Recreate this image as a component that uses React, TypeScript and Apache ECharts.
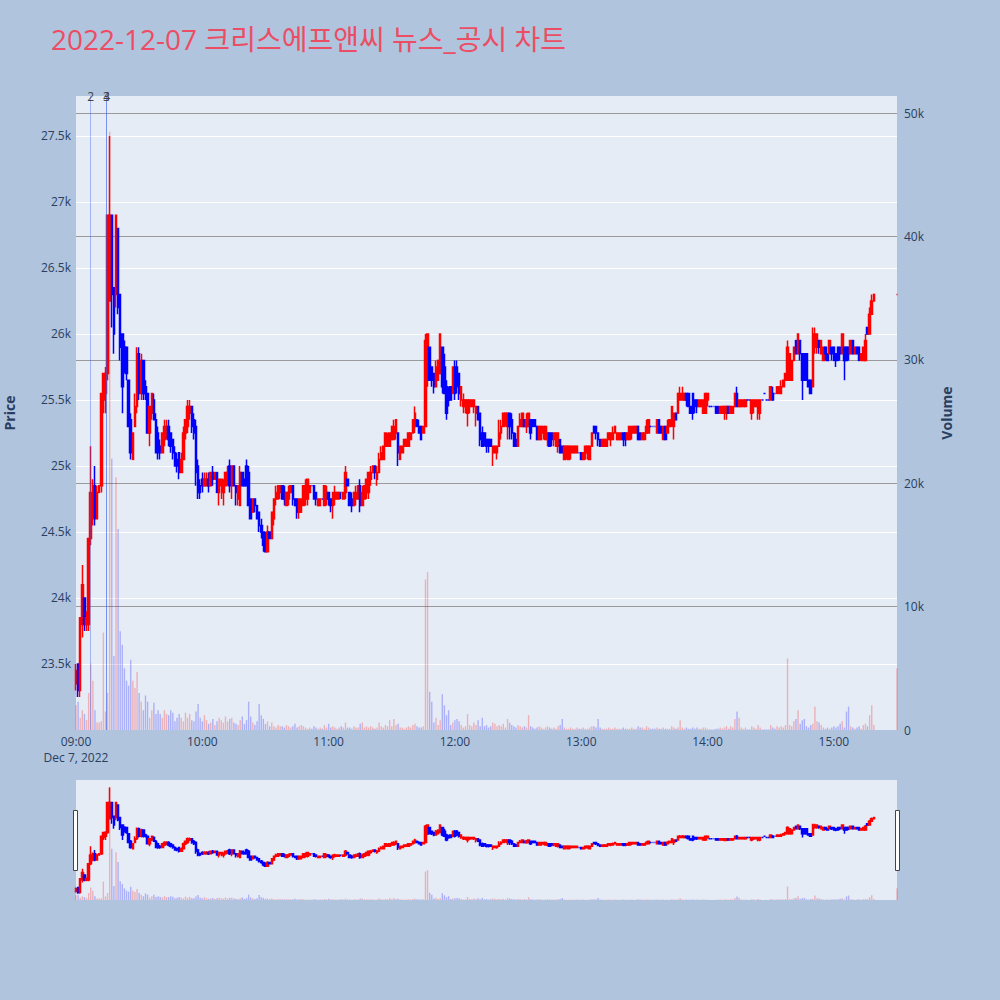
import React, { useEffect, useRef } from "react";
import * as echarts from "echarts";

const TITLE = "2022-12-07 크리스에프앤씨 뉴스_공시 차트";
const DATE_LABEL = "Dec 7, 2022";
const SESSION_START_HOUR = 9;
const SESSION_MINUTES = 390;

// One candle per minute from 09:00 (index = minutes after 09:00).
// Prices in hundreds of won: [open, close, low, high]
const candles: number[][] = [
  [233.5,234.5,233,235],[235,233,232.5,235],[233,238.5,232.5,238.5],[238,241,237,242.5],[240,238,237.5,240],[238,238.5,237.5,239],[238,244.5,237.5,244.5],[244.5,248,244,251.5],[246,248.5,245.5,249],[248.5,246,245.5,250],
  [246,248,246,248.5],[248,248.5,248,248.5],[248.5,255.5,248,255.5],[255,257,254,257],[255.5,257,254,257.5],[257,269,256.5,269],[262.5,269,262.5,275],[269,263,260.5,269],[263.5,260,258.5,263.5],[263,269,262,269],
  [268,262,261.5,268],[263,259,258,263],[260,256,254,260],[259,257.5,257,259.5],[259,257,256.5,259],[256.5,253,253,256.5],[253.5,251,250.5,254],[250.5,252.5,250.5,252.5],[253,254.5,253,255.5],[254.5,258.5,254,259],
  [258.5,255.5,255,259],[255.5,258,255,258.5],[258,255.5,255,258],[256,255.5,255,256.5],[255.5,252.5,252.5,255.5],[252.5,254.5,251.5,254.5],[254,255.5,253.5,255.5],[255,253.5,253.5,255.5],[253.5,251,251,254],[252.5,251,250.5,253],
  [251.5,251,250.5,252],[251,252.5,251,252.5],[252,253,251.5,253.5],[252.5,253,252,253.5],[253,252,251.5,253.5],[252.5,251.5,251,252.5],[252,251,250.5,252],[251,250,250,251.5],[250.5,250,249.5,251],[251,249.5,249,251],
  [249.5,250.5,249.5,251],[250.5,252.5,250.5,253],[252.5,253.5,252,253.5],[253,254.5,252.5,255],[254,254.5,253.5,255],[254.5,253,252.5,254.5],[253.5,252.5,252,254],[253,249.5,248.5,253.5],[250,248,247.5,250.5],[248.5,248,247.5,249],
  [249,248.5,248,249.5],[248.5,249,248.5,249.5],[248.5,249,248.5,249.5],[249,248.5,248,249.5],[248.5,249.5,248.5,249.5],[249.5,249,248.5,250],[249,249.5,249,249.5],[249.5,248,248,249.5],[248,249,247,249],[248.5,249,247.5,249],
  [248,248.5,247,249],[248.5,249.5,248.5,249.5],[249,249.5,248.5,250],[250,248.5,248,250.5],[248.5,250,247.5,250],[250,248.5,248.5,250],[248.5,248,247,248.5],[247.5,248.5,247,248.5],[247,249.5,247,250],[249.5,248.5,248.5,249.5],
  [249,248.5,248.5,249],[250,248.5,248.5,250.5],[249.5,247,247,250],[247.5,246,246,247.5],[246.5,247.5,246.5,247.5],[247.5,247,246.5,247.5],[247,246,246,247],[246.5,245.5,245,246.5],[245.5,245,244.5,246],[245,244,243.5,245],
  [244.5,243.5,243.5,245],[243.5,245,243.5,245.5],[245,244.5,244.5,245],[244.5,246.5,244.5,246.5],[246,247.5,245.5,247.5],[247.5,248,247,248.5],[247.5,248.5,247.5,248.5],[248,248.5,247.5,248.5],[248.5,247.5,247.5,248.5],[248,247.5,247,248.5],
  [247,248,247,248],[247.5,248,247,248.5],[248,248.5,248,248.5],[248.5,247.5,247,248.5],[247.5,247,247,247.5],[247.5,246.5,246,247.5],[246.5,247.5,246,247.5],[246.5,247.5,246.5,247.5],[247,248.5,247,248.5],[247.5,248.5,247,249],
  [247.5,249,247,249],[248,248.5,248,248.5],[248.5,248.5,248.5,248.5],[248.5,247.5,247.5,248.5],[248,247.5,247,248],[247,247.5,247,247.5],[247,247.5,247,247.5],[247.5,247.5,247.5,247.5],[247,248.5,247,248.5],[247.5,248,247,248.5],
  [248,247.5,247,248],[247.5,247,246.5,247.5],[247,248,246,248],[247.5,248,247,248.5],[247.5,248,247.5,248],[247.5,248,247.5,248],[248,248,247.5,248],[247.5,248,247.5,248],[248,249.5,247.5,250],[249,248.5,248.5,249],
  [248,247,247,248],[247.5,247,246.5,248],[247,248,247,248],[247.5,248,247,248.5],[247.5,248.5,247.5,248.5],[248.5,247,246.5,249],[247,248,247,248.5],[247.5,248.5,247.5,248.5],[248,249,247.5,249],[248,249.5,247.5,249.5],
  [249,249.5,248.5,250],[249.5,250,249.5,250],[250,249.5,249,250],[249,249.5,248.5,250],[249.5,250.5,249.5,251],[250.5,251,250.5,251.5],[250.5,251.5,250.5,251.5],[251.5,252.5,251.5,252.5],[251.5,252,251.5,252.5],[251.5,252.5,251.5,252.5],
  [252,253,252,253],[252,253,252,253.5],[252.5,253.5,252,253.5],[252.5,251,250,252.5],[250.5,251.5,250.5,251.5],[251,251.5,251,251.5],[251.5,252,251.5,252],[251.5,252,251.5,252],[251.5,252.5,251.5,252.5],[252,252.5,252,252.5],
  [252.5,253.5,252.5,253.5],[253,254,252.5,254.5],[253.5,253,253,253.5],[253,252.5,252.5,253.5],[253,252,252,253],[252.5,253,252.5,253],[253,259.5,253,260],[256.5,260,256,260],[259,256.5,256.5,259],[257.5,256.5,256,257.5],
  [257,256,255.5,257],[256,257.5,256,258],[256.5,258,256.5,258],[257,260,257,260],[259,256,255.5,259],[257.5,255.5,255.5,258.5],[256,254,253.5,256.5],[255.5,255,254.5,256],[256,255,255,256],[255.5,257.5,255.5,257.5],
  [257.5,255.5,255,258],[257.5,256,255.5,258],[257,255.5,255,257],[255,256,254.5,256],[254.5,255,254,255.5],[254.5,255,254,255],[254,255,253,255],[254.5,255,254,255],[254.5,255,254.5,255],[254.5,255,254,255],
  [254,254.5,253,254.5],[254.5,253.5,253.5,254.5],[254,252,251.5,254],[252.5,251.5,251.5,253],[252.5,252,251.5,252.5],[252,251.5,251,252],[252,251.5,251,252],[252,251.5,251.5,252],[251,251.5,250,251.5],[251,251.5,251,251.5],
  [251,251.5,250.5,251.5],[251.5,252.5,251.5,253.5],[252.5,253,252,253.5],[253,254,253,254],[253.5,254,253,254],[253,254,252,254],[254,253,252,254],[253.5,252.5,252,254],[252.5,251.5,251.5,252.5],[252,251.5,251.5,252.5],
  [251.5,253,251.5,253],[253,253.5,253,254],[253,254,253,254],[253.5,253,253,253.5],[253,253.5,252.5,254],[253,254,253,254],[253.5,252.5,252,253.5],[253.5,253,253,253.5],[253.5,253,253,253.5],[253,252,252,253],
  [252,253,252,253],[252,253,252,253],[252.5,253,252,253],[252,253,252,253],[252,252.5,251.5,252.5],[252.5,251.5,251.5,252.5],[252.5,252,251.5,252.5],[252,252.5,251.5,252.5],[251.5,252.5,251.5,252.5],[251.5,252.5,251,252.5],
  [252,251,251,252],[251.5,251,251,251.5],[250.5,251.5,250.5,251.5],[251,251.5,250.5,251.5],[250.5,251.5,250.5,251.5],[251,251.5,250.5,251.5],[251,251.5,251,251.5],[251,251.5,251,251.5],[251,251.5,251,251.5],[251,251,251,251],
  [251,250.5,250.5,251],[250.5,251,250.5,251],[251,251.5,250.5,251.5],[251,251.5,250.5,251.5],[250.5,251.5,250.5,251.5],[251.5,252.5,251.5,252.5],[253,252.5,252.5,253],[253,252.5,252,253],[252.5,252,251.5,252.5],[252,251.5,251.5,252],
  [251.5,252,251.5,252],[251.5,252,251.5,252],[251.5,252,251.5,252],[252,252.5,252,252.5],[252,252.5,251.5,252.5],[252,252.5,252,253],[252.5,253,252.5,253],[252,252.5,252,252.5],[252,252.5,252,252.5],[252,252.5,252,252.5],
  [252.5,252,251.5,252.5],[252.5,252,251.5,252.5],[252,252.5,252,252.5],[252,253,252,253],[252.5,253,252,253],[252.5,253,252.5,253],[252.5,253,252.5,253],[253,252,252,253],[252.5,252,252,252.5],[252,252.5,252,252.5],
  [252,252.5,252,252.5],[252.5,253,252.5,253.5],[252.5,253.5,252.5,253.5],[253,253,253,253],[253,253,253,253],[253,253,253,253],[252.5,253.5,252.5,253.5],[253.5,252.5,252.5,253.5],[253,252.5,252.5,253],[252,253,252,253],
  [253,252,252,253],[252.5,253,252.5,253.5],[253,253.5,253,253.5],[253,254.5,253,254.5],[253,254,252,254],[254,253.5,253.5,254],[254,255.5,254,255.5],[255,255.5,255,256],[255,255.5,255,256],[255,255.5,255,255.5],
  [255.5,255,254.5,255.5],[255.5,254.5,254.5,255.5],[254.5,254,254,254.5],[255.5,254,253.5,255.5],[255,254.5,254,255],[255,254.5,254,255],[254.5,255,254.5,255],[254.5,255,254.5,255],[254,255,254,255],[254,255.5,254,255.5],
  [255,255.5,254.5,255.5],[254.5,254.5,254.5,254.5],[254.5,254.5,254.5,254.5],[254.5,254.5,254.5,254.5],[254.5,254,254,254.5],[254.5,254,254,254.5],[254,254.5,254,254.5],[254,254.5,254,254.5],[254,254.5,253.5,254.5],[254,254.5,253.5,254.5],
  [254.5,254,254,254.5],[254,254.5,254,254.5],[254,254.5,254,254.5],[254.5,255.5,254.5,255.5],[255.5,254.5,254.5,256],[254.5,255,254.5,255],[254.5,255,254.5,255],[254.5,255,254.5,255],[254.5,255,254.5,255],[255,255,255,255],
  [255,255,255,255],[254,255,253.5,255],[254.5,255,254,255],[254.5,255,254.5,255],[254,255,253.5,255],[254,255,253.5,255],[255,255,255,255],[255.5,255.5,255.5,255.5],[255,255,255,255],[255,255,255,255],
  [255,256,255,256],[255.5,255,255,256],[255.5,255.5,255.5,255.5],[255.5,256,255.5,256],[255.5,256,255.5,256],[255.5,256,255.5,256.5],[256,256.5,256,256.5],[256.5,257,256.5,257],[256.5,259,256.5,259.5],[256.5,258.5,256.5,258.5],
  [256.5,258,256.5,258],[258,259,258,259],[259.5,258.5,258.5,259.5],[258.5,260,258.5,260],[259.5,258.5,258,259.5],[258.5,256.5,255,258.5],[258.5,256.5,256.5,258.5],[258.5,256.5,256.5,258.5],[256.5,256,256,256.5],[256.5,255.5,255.5,256.5],
  [256,260,256,260.5],[259,260,258.5,260.5],[259,260,258.5,260],[259.5,259,258.5,259.5],[258.5,259.5,258.5,259.5],[258,259,258,259],[259,258.5,258,259],[258.5,258,258,258.5],[258.5,259.5,258.5,259.5],[259,258.5,258,259],
  [259,258,258,259],[258.5,258,257.5,258.5],[259,258,258,259],[259,258.5,258,259],[258.5,260,258.5,260],[259,258,256.5,259],[259,258,258,259],[259,258.5,258,259],[258.5,259.5,258.5,259.5],[259.5,258.5,258.5,259.5],
  [258.5,259,258.5,259],[259,258.5,258.5,259],[259,258,258,259],[258,258.5,258,258.5],[258,259,258,259],[258,259.5,258,260],[260.5,260,260,260.5],[260,261.5,260,262],[261.5,262.5,261.5,263],[262.5,263,262.5,263],
];

// Shares traded per minute (same index as candles)
const volumes: number[] = [
  2000,2300,1000,1600,1300,800,3000,5400,4000,1600,
  600,600,700,7900,1500,3000,48500,22000,6000,20500,
  16300,8000,6900,5000,4000,3600,5700,4000,3400,4700,
  3000,2300,1600,2800,2300,1000,1600,2200,1300,1600,
  1300,1000,1600,1300,1200,1600,1400,700,1000,1300,
  1000,700,1400,1000,1300,800,700,1500,2100,1000,
  700,1200,800,500,600,900,400,700,1000,800,
  600,1100,700,900,1000,600,500,400,800,1100,
  500,800,2300,1100,600,400,700,2100,1200,900,
  500,700,300,600,300,200,400,300,300,200,
  400,300,200,300,500,200,300,400,300,200,
  100,200,100,300,200,100,200,100,400,200,
  500,200,300,200,100,200,300,200,600,200,
  200,100,300,200,200,500,600,200,300,200,
  300,200,100,200,600,300,200,400,300,800,
  300,900,400,500,200,200,100,200,300,200,
  400,500,300,200,200,300,12200,12800,3100,2300,
  600,1000,400,800,2900,2000,1200,1600,400,600,
  800,900,700,400,200,300,1300,400,300,600,
  400,800,300,1000,300,400,200,300,600,500,
  300,400,300,500,200,900,600,400,300,200,
  400,300,200,300,200,1200,300,200,100,200,
  300,200,100,200,300,200,100,200,100,300,
  400,900,200,100,100,200,100,100,200,100,
  100,200,100,100,200,300,300,200,900,200,
  100,100,100,200,100,100,200,100,100,100,
  200,100,100,100,200,100,100,300,200,200,
  100,300,200,100,100,100,200,100,100,200,
  100,100,100,300,200,100,200,800,200,100,
  200,100,100,200,100,200,100,100,200,200,
  100,50,50,50,100,100,200,100,200,300,
  100,300,200,900,1500,1000,200,100,200,50,
  50,300,200,100,400,200,50,50,50,50,
  400,200,100,300,200,300,200,400,5800,400,
  300,700,900,1600,500,800,900,300,200,400,
  500,1900,700,600,400,200,100,200,100,200,
  300,200,300,500,700,200,1500,1900,300,200,
  100,200,300,100,400,500,300,1200,2000,400,
];

// 15:30 closing auction
const auctionMinute = 390;
const auctionCandle = [263, 263, 263, 263];
const auctionVolume = 5000;

// News / disclosure markers (minutes after 09:00)
const newsLabels = ["2", "3", "4"];
const newsMinutes = [7, 14.4, 14.6];

const RED = "#ff0000";
const BLUE = "#0000ff";
const VOL_RED = "rgba(255,0,0,0.25)";
const VOL_BLUE = "rgba(0,0,255,0.25)";
const AXIS_TEXT = "#2a3f5f";
const FONT = "'Open Sans', 'Noto Sans CJK KR', sans-serif";

function buildOption() {
  const candleData: any[] = candles.map((c, i) => [i, c[0] * 100, c[1] * 100, c[2] * 100, c[3] * 100]);
  candleData.push({
    value: [auctionMinute, ...auctionCandle.map((v) => v * 100)],
    itemStyle: { color: RED, borderColor: RED, color0: RED, borderColor0: RED, borderColorDoji: RED },
  });
  const volData: any[] = volumes.map((v, i) => ({
    value: [i, v],
    itemStyle: { color: candles[i][1] > candles[i][0] ? VOL_RED : VOL_BLUE },
  }));
  volData.push({ value: [auctionMinute, auctionVolume], itemStyle: { color: VOL_RED } });

  const candleStyle = {
    color: RED,
    color0: BLUE,
    borderColor: RED,
    borderColor0: BLUE,
    borderColorDoji: BLUE,
    borderWidth: 1.5,
  };

  const fmtTime = (v: number) => {
    const h = SESSION_START_HOUR + Math.floor(v / 60);
    const m = v % 60;
    const s = String(h).padStart(2, "0") + ":" + String(m).padStart(2, "0");
    return v === 0 ? s + "\n" + DATE_LABEL : s;
  };
  const fmtK = (v: number) => (v === 0 ? "0" : v / 1000 + "k");

  return {
    animation: false,
    backgroundColor: "#b0c4de",
    textStyle: { fontFamily: FONT },
    title: {
      text: TITLE,
      left: 46,
      top: 20,
      textStyle: { color: "#eb4e64", fontSize: 28, fontWeight: "normal", fontFamily: FONT },
    },
    grid: [
      { left: 76, top: 96, width: 821, height: 634, show: true, backgroundColor: "#e5ecf6", borderWidth: 0, containLabel: false, outerBoundsMode: "none" },
      { left: 76, top: 780, width: 821, height: 120, show: true, backgroundColor: "#e5ecf6", borderWidth: 0, containLabel: false, outerBoundsMode: "none" },
    ],
    xAxis: [
      {
        type: "value",
        gridIndex: 0,
        min: 0,
        max: SESSION_MINUTES,
        interval: 60,
        axisLine: { show: false },
        axisTick: { show: false },
        splitLine: { show: false },
        axisLabel: {
          formatter: fmtTime,
          color: AXIS_TEXT,
          fontSize: 12,
          margin: 3,
          lineHeight: 16,
          showMaxLabel: false,
          fontFamily: FONT,
        },
      },
      { type: "value", gridIndex: 1, min: 0, max: SESSION_MINUTES, show: false },
    ],
    yAxis: [
      {
        type: "value",
        gridIndex: 0,
        position: "left",
        min: 23000,
        max: 27803,
        interval: 500,
        name: "Price",
        nameLocation: "middle",
        nameGap: 60,
        nameTextStyle: { color: AXIS_TEXT, fontSize: 14, fontWeight: "bold", fontFamily: FONT },
        axisLine: { show: false },
        axisTick: { show: false },
        splitLine: { show: true, showMaxLine: false, showMinLine: false, lineStyle: { color: "#ffffff", width: 1 } },
        axisLabel: {
          formatter: fmtK,
          color: AXIS_TEXT,
          fontSize: 12,
          margin: 5,
          showMinLabel: false,
          showMaxLabel: false,
          fontFamily: FONT,
        },
      },
      {
        type: "value",
        gridIndex: 0,
        position: "right",
        min: 0,
        max: 51400,
        interval: 10000,
        name: "Volume",
        nameLocation: "middle",
        nameGap: 42,
        nameTextStyle: { color: AXIS_TEXT, fontSize: 14, fontWeight: "bold", fontFamily: FONT },
        axisLine: { show: false },
        axisTick: { show: false },
        splitLine: { show: true, showMaxLine: false, showMinLine: false, lineStyle: { color: "#9a9a9a", width: 1 } },
        axisLabel: {
          formatter: fmtK,
          color: AXIS_TEXT,
          fontSize: 12,
          margin: 7,
          showMaxLabel: false,
          fontFamily: FONT,
        },
      },
      { type: "value", gridIndex: 1, min: 23000, max: 27803, show: false },
      { type: "value", gridIndex: 1, min: 0, max: 51400, show: false },
    ],
    series: [
      {
        type: "bar",
        xAxisIndex: 0,
        yAxisIndex: 1,
        data: volData,
        barWidth: 1.4,
        z: 1,
      },
      {
        type: "candlestick",
        xAxisIndex: 0,
        yAxisIndex: 0,
        data: candleData,
        encode: { x: 0, y: [1, 2, 3, 4] },
        barWidth: 2,
        itemStyle: candleStyle,
        z: 2,
        markLine: {
          silent: true,
          symbol: "none",
          animation: false,
          lineStyle: { type: "solid", width: 1, color: "rgba(50,90,235,0.38)" },
          label: { show: true, position: "end", color: "#444444", fontSize: 12, distance: -6, fontFamily: FONT },
          data: newsMinutes.map((m, i) => ({ xAxis: m, label: { formatter: newsLabels[i] } })),
        },
      },
      {
        type: "bar",
        xAxisIndex: 1,
        yAxisIndex: 3,
        data: volData,
        barWidth: 1.4,
        z: 1,
      },
      {
        type: "candlestick",
        xAxisIndex: 1,
        yAxisIndex: 2,
        data: candleData,
        encode: { x: 0, y: [1, 2, 3, 4] },
        barWidth: 2,
        itemStyle: candleStyle,
        z: 2,
      },
    ],
    graphic: [
      { type: "rect", shape: { x: 73.5, y: 810.5, width: 4, height: 60 }, style: { fill: "#ffffff", stroke: "#444444", lineWidth: 1 }, z: 100 },
      { type: "rect", shape: { x: 895.5, y: 810.5, width: 4, height: 60 }, style: { fill: "#ffffff", stroke: "#444444", lineWidth: 1 }, z: 100 },
    ],
  };
}

export default function App() {
  const ref = useRef<HTMLDivElement>(null);
  useEffect(() => {
    if (!ref.current) return;
    const chart = echarts.init(ref.current, null, { renderer: "svg" });
    chart.setOption(buildOption() as any);
    return () => chart.dispose();
  }, []);
  return <div ref={ref} style={{ position: "fixed", left: 0, top: 0, width: 1000, height: 1000 }} />;
}
